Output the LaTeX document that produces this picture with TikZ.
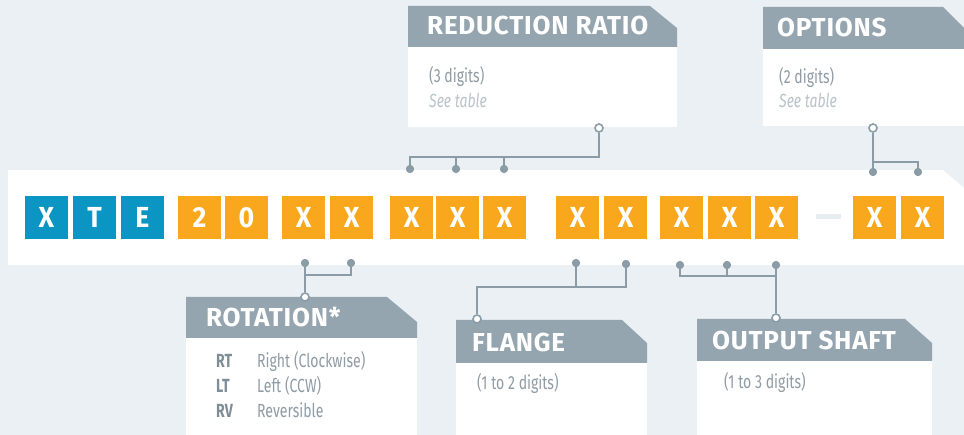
\documentclass[tikz,border=0pt]{standalone}
\usepackage{fontspec}
\setmainfont{Fira Sans}
\newfontfamily\headfont[FakeStretch=1.0,LetterSpace=3]{Fira Sans}
\newfontfamily\boxfont[FakeStretch=0.92]{Fira Sans}
\newfontfamily\bodyfont[FakeStretch=0.74]{Fira Sans}
\definecolor{bg}{HTML}{EAF0F3}
\definecolor{codeblue}{HTML}{0A95C2}
\definecolor{codeorange}{HTML}{F9A81D}
\definecolor{headgray}{HTML}{95A5AF}
\definecolor{linegray}{HTML}{8C9CA6}
\definecolor{txtgray}{HTML}{8F9CA5}
\definecolor{keygray}{HTML}{7F8D97}
\definecolor{lightgray}{HTML}{B9C3C9}
\definecolor{dashgray}{HTML}{E6EDF0}
\tikzset{
  lbox/.style={minimum width=43pt, minimum height=43pt, inner sep=0pt, text=white,
     font=\boxfont\bfseries\fontsize{29}{29}\selectfont},
  bluebox/.style={lbox, fill=codeblue},
  orbox/.style={lbox, fill=codeorange},
  headtxt/.style={anchor=base west, inner sep=0pt, text=white, font=\headfont\bfseries\fontsize{26}{26}\selectfont},
  bodytxt/.style={anchor=base west, inner sep=0pt, text=txtgray, font=\bodyfont\fontsize{19}{19}\selectfont},
  seetxt/.style={anchor=base west, inner sep=0pt, text=lightgray, font=\bodyfont\itshape\fontsize{19}{19}\selectfont},
  keytxt/.style={anchor=base west, inner sep=0pt, text=keygray, font=\bodyfont\bfseries\fontsize{19}{19}\selectfont},
  conn/.style={draw=linegray, line width=2.5pt},
  dot/.style={circle, fill=linegray, minimum size=8pt, inner sep=0pt},
  ring/.style={circle, draw=linegray, fill=white, line width=1.6pt, minimum size=8pt, inner sep=0pt},
}
\begin{document}
\begin{tikzpicture}[x=1pt, y=-1pt]
\useasboundingbox (0,0) rectangle (964,435);
\fill[bg] (0,0) rectangle (964,435);
% white code band
\fill[white] (8,170) -- (943,170) -- (964,188) -- (964,265) -- (8,265) -- cycle;
% code boxes
\node[bluebox] (b1) at (46.5,217.5) {X};
\node[bluebox] (b2) at (94.5,217.5) {T};
\node[bluebox] (b3) at (142.5,217.5) {E};
\node[orbox] (b4) at (199.5,217.5) {2};
\node[orbox] (b5) at (246.5,217.5) {0};
\node[orbox] (b6) at (303.5,217.5) {X};
\node[orbox] (b7) at (351.5,217.5) {X};
\node[orbox] (b8) at (411.5,217.5) {X};
\node[orbox] (b9) at (457.5,217.5) {X};
\node[orbox] (b10) at (504.5,217.5) {X};
\node[orbox] (b11) at (577.5,217.5) {X};
\node[orbox] (b12) at (625.5,217.5) {X};
\node[orbox] (b13) at (681.5,217.5) {X};
\node[orbox] (b14) at (729.5,217.5) {X};
\node[orbox] (b15) at (776.5,217.5) {X};
\node[orbox] (b16) at (874.5,217.5) {X};
\node[orbox] (b17) at (922.5,217.5) {X};
\fill[dashgray] (816,214.5) rectangle (841,219.5);

% ---------- REDUCTION RATIO ----------
\fill[headgray] (408,6) -- (650,6) -- (677,28) -- (677,47) -- (408,47) -- cycle;
\fill[white] (408,47) rectangle (677,127);
\node[headtxt] (rrh) at (427,35) {REDUCTION RATIO};
\node[bodytxt] (rrb) at (429,83) {(3 digits)};
\node[seetxt] (rrs) at (429,108) {See table};
% ---------- OPTIONS ----------
\fill[headgray] (763,7) -- (943,7) -- (964,28) -- (964,49) -- (763,49) -- cycle;
\fill[white] (763,49) rectangle (964,126);
\node[headtxt] (oph) at (777,37) {OPTIONS};
\node[bodytxt] (opb) at (779,84) {(2 digits)};
\node[seetxt] (ops) at (779,108) {See table};
% ---------- ROTATION ----------
\fill[headgray] (186,297) -- (387,297) -- (417,322) -- (417,338) -- (186,338) -- cycle;
\fill[white] (186,338) rectangle (417,435);
\node[headtxt] (roh) at (206,327) {ROTATION*};
\node[keytxt] (k1) at (216,368) {RT};
\node[keytxt] (k2) at (216,393) {LT};
\node[keytxt] (k3) at (216,418) {RV};
\node[bodytxt] (v1) at (257,368) {Right (Clockwise)};
\node[bodytxt] (v2) at (257,393) {Left (CCW)};
\node[bodytxt] (v3) at (257,418) {Reversible};
% ---------- FLANGE ----------
\fill[headgray] (456,320) -- (622,320) -- (647,343) -- (647,363) -- (456,363) -- cycle;
\fill[white] (456,363) rectangle (647,435);
\node[headtxt] (flh) at (472,352) {FLANGE};
\node[bodytxt] (flb) at (477,390) {(1 to 2 digits)};
% ---------- OUTPUT SHAFT ----------
\fill[headgray] (697,319) -- (905,319) -- (932,343) -- (932,361) -- (697,361) -- cycle;
\fill[white] (697,361) rectangle (932,435);
\node[headtxt] (osh) at (712,350) {OUTPUT SHAFT};
\node[bodytxt] (osb) at (724,389) {(1 to 3 digits)};

% ---------- connectors ----------
% reduction ratio
\node[ring] (rrc) at (599,128) {};
\coordinate (rrj) at (599,157);
\coordinate (rrl) at (410,157);
\node[dot] (rd1) at (410,169) {};
\node[dot] (rd2) at (456,169) {};
\node[dot] (rd3) at (504,169) {};
\draw[conn] (rrc.south) -- (rrj) -- (rrl) -- (rd1.center);
\draw[conn] (rd2.center) -- (rd2.center |- rrj);
\draw[conn] (rd3.center) -- (rd3.center |- rrj);
\node[dot] at (rd1) {};
\node[dot] at (rd2) {};
\node[dot] at (rd3) {};
% options
\node[ring] (opc) at (873,128) {};
\coordinate (opj) at (873,162);
\coordinate (opr) at (918,162);
\node[dot] (od1) at (873,172) {};
\node[dot] (od2) at (918,172) {};
\draw[conn] (opc.south) -- (od1.center);
\draw[conn] (opj) -- (opr) -- (od2.center);
\node[dot] at (od1) {};
\node[dot] at (od2) {};
% rotation
\node[dot] (td1) at (305,263) {};
\node[dot] (td2) at (351,263) {};
\coordinate (tj) at (305,275);
\coordinate (tr) at (351,275);
\node[ring] (tc) at (305,297) {};
\draw[conn] (td1.center) -- (tc.north);
\draw[conn] (tj) -- (tr) -- (td2.center);
\node[dot] at (td1) {};
\node[dot] at (td2) {};
% flange
\node[dot] (fd1) at (576,263) {};
\node[dot] (fd2) at (626,264) {};
\coordinate (fj) at (576,287);
\coordinate (fr) at (626,287);
\coordinate (fl) at (477,287);
\node[ring] (fc) at (477,319) {};
\draw[conn] (fd2.center) -- (fr) -- (fl) -- (fc.north);
\draw[conn] (fd1.center) -- (fj);
\node[dot] at (fd1) {};
\node[dot] at (fd2) {};
% output shaft
\node[dot] (sd1) at (680,265) {};
\node[dot] (sd2) at (727,265) {};
\node[dot] (sd3) at (776,265) {};
\coordinate (sl) at (680,276);
\coordinate (sj) at (727,276);
\coordinate (sr) at (776,276);
\node[ring] (sc) at (776,318) {};
\draw[conn] (sd1.center) -- (sl) -- (sr) -- (sc.north);
\draw[conn] (sd3.center) -- (sr);
\draw[conn] (sd2.center) -- (sj);
\node[dot] at (sd1) {};
\node[dot] at (sd2) {};
\node[dot] at (sd3) {};
\end{tikzpicture}
\end{document}
